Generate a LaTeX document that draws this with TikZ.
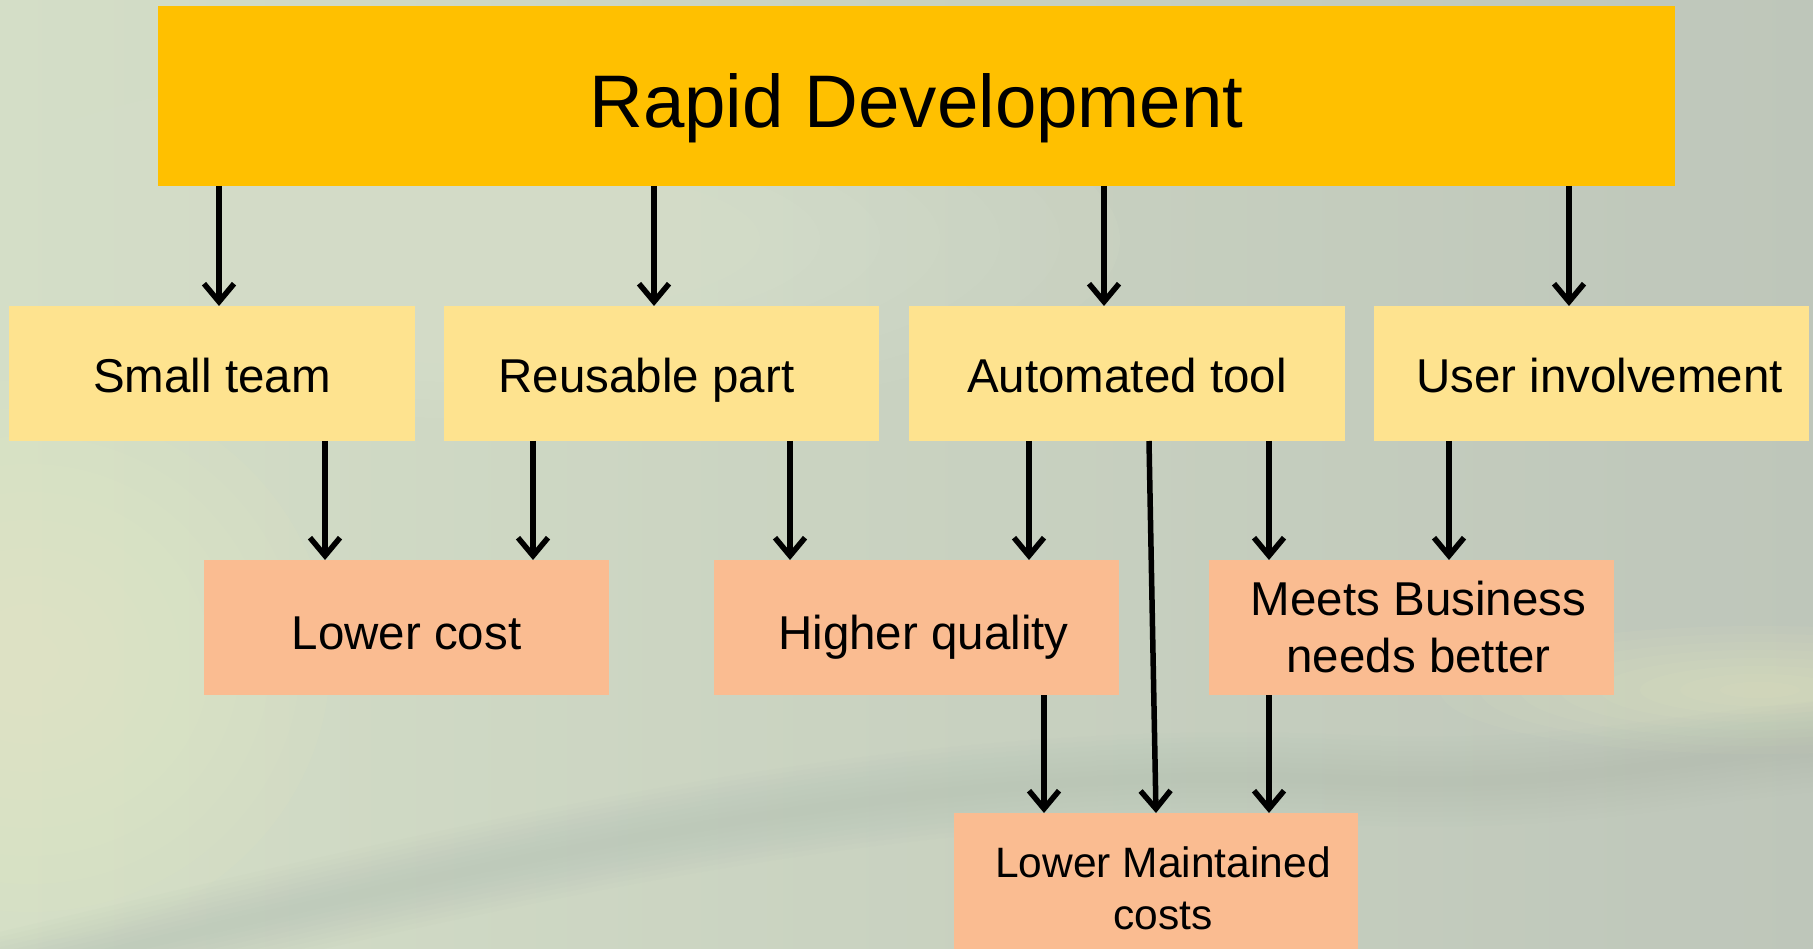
\documentclass[tikz,border=0pt]{standalone}
\usepackage{fontspec}
\setmainfont{Liberation Sans}
\usetikzlibrary{arrows.meta}

\definecolor{amber}{RGB}{255,192,0}
\definecolor{causefill}{RGB}{254,227,143}
\definecolor{gainfill}{RGB}{250,188,145}
\definecolor{bgleft}{RGB}{212,222,199}
\definecolor{bgright}{RGB}{190,198,186}
\definecolor{bgyellow}{RGB}{232,236,196}
\definecolor{bglight}{RGB}{222,230,210}
\definecolor{bgstreak}{RGB}{176,190,178}

\begin{document}
\begin{tikzpicture}[x=1pt,y=-1pt,
    head/.style  = {rectangle, fill=amber, anchor=north west,
                    inner sep=0pt, outer sep=0pt,
                    text height=64pt, text depth=0pt,
                    font=\fontsize{74.5}{88}\selectfont},
    cause/.style = {rectangle, fill=causefill, anchor=north west,
                    inner sep=0pt, outer sep=0pt, align=center,
                    minimum height=135pt,
                    text height=39pt, text depth=0pt,
                    font=\fontsize{47.5}{57}\selectfont},
    gain/.style  = {cause, fill=gainfill, text height=43pt},
    twoline/.style = {text height=, text depth=},
    arr/.style   = {line width=5.5pt,
                    -{Straight Barb[length=18pt,width=30pt]}},
                    ]
% page and background
\useasboundingbox (0,0) rectangle (1813,949);
\clip (0,0) rectangle (1813,949);
\shade[left color=bgleft, right color=bgright] (0,0) rectangle (1813,949);
\foreach \k in {1,...,10}
    \fill[bglight, opacity=0.09] (520,240) ellipse [x radius=60pt*\k, y radius=18pt*\k];
\foreach \k in {1,...,10}
    \fill[bgyellow, opacity=0.09] (30,660) ellipse [x radius=30pt*\k, y radius=28pt*\k];
\foreach \k in {1,...,8}
    \fill[bgyellow, opacity=0.08] (1760,690) ellipse [x radius=40pt*\k, y radius=8pt*\k];
\foreach \w in {10,20,...,90}
    \draw[bgstreak, opacity=0.06, line width=\w pt]
        (-50,990) .. controls (500,860) and (900,760) .. (1350,780)
        .. controls (1600,790) and (1700,750) .. (1900,740);

% boxes
\node[head, minimum width=1517pt, minimum height=180pt] (rapid) at (158,6) {Rapid Development};

\node[cause, minimum width=406pt] (small) at (9,306)    {Small team};
\node[cause, minimum width=435pt] (reuse) at (444,306)  {Reusable part\hspace*{30pt}};
\node[cause, minimum width=436pt] (auto)  at (909,306)  {Automated tool};
\node[cause, minimum width=435pt] (user)  at (1374,306) {\hspace*{16pt}User involvement};

\node[gain, minimum width=405pt] (cost)  at (204,560)  {Lower cost};
\node[gain, minimum width=405pt] (qual)  at (714,560)  {\hspace*{14pt}Higher quality};
\node[gain, twoline, minimum width=405pt] (needs) at (1209,560)
     {\hspace*{14pt}Meets Business\\\hspace*{14pt}needs better};
\node[gain, twoline, minimum width=404pt, minimum height=150pt,
      font=\fontsize{42.5}{52}\selectfont] (maint) at (954,813)
     {\hspace*{14pt}Lower Maintained\\\hspace*{14pt}costs};

% arrows
\foreach \x/\n in {219/small, 654/reuse, 1104/auto, 1569/user}
    \draw[arr] (rapid.south -| \x,0) -- (\n.north -| \x,0);
\foreach \x/\m/\n in {325/small/cost, 533/reuse/cost, 790/reuse/qual,
                      1029/auto/qual, 1269/auto/needs, 1449/user/needs,
                      1044/qual/maint, 1269/needs/maint}
    \draw[arr] (\m.south -| \x,0) -- (\n.north -| \x,0);
\draw[arr] (auto.south -| 1149,0) -- (maint.north -| 1156,0);
\end{tikzpicture}
\end{document}
